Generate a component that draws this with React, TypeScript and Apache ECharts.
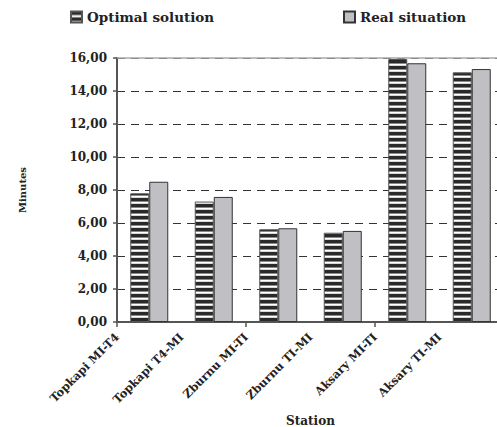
import React, { useEffect, useRef } from "react";
import * as echarts from "echarts";

const categories = ["Topkapi MI-T4", "Topkapi T4-MI", "Zburnu MI-TI", "Zburnu TI-MI", "Aksary MI-TI", "Aksary TI-MI"];
const optimalValues = [7.8, 7.3, 5.62, 5.41, 15.94, 15.13];
const realValues = [8.5, 7.58, 5.68, 5.52, 15.68, 15.33];
const seriesNames = ["Optimal solution", "Real situation"];

const FONT = "DejaVu Serif";

function makeStripe(): HTMLCanvasElement {
  const c = document.createElement("canvas");
  c.width = 6;
  c.height = 6;
  const ctx = c.getContext("2d")!;
  ctx.fillStyle = "#ffffff";
  ctx.fillRect(0, 0, 6, 6);
  ctx.fillStyle = "#2a2a2a";
  ctx.fillRect(0, 0, 6, 3);
  ctx.fillStyle = "#8a8a8a";
  ctx.fillRect(0, 3, 6, 1);
  ctx.fillStyle = "#d8d8d8";
  ctx.fillRect(0, 5, 6, 1);
  return c;
}

export default function App() {
  const ref = useRef<HTMLDivElement>(null);
  useEffect(() => {
    if (!ref.current) return;
    const chart = echarts.init(ref.current, null, { renderer: "svg" });
    const stripe = { image: makeStripe(), repeat: "repeat" } as any;
    const axisLabelFont = { fontFamily: FONT, fontWeight: "bold" as const, color: "#222" };
    chart.setOption({
      animation: false,
      backgroundColor: "#ffffff",
      legend: [
        {
          data: [seriesNames[0]],
          left: 65,
          top: 5,
          padding: 5,
          itemWidth: 11,
          itemHeight: 11,
          icon: "rect",
          textStyle: { ...axisLabelFont, fontSize: 13.5 },
        },
        {
          data: [seriesNames[1]],
          left: 338,
          top: 5,
          padding: 5,
          itemWidth: 11,
          itemHeight: 11,
          icon: "rect",
          textStyle: { ...axisLabelFont, fontSize: 13.5 },
        },
      ],
      grid: { left: 117, top: 58, width: 387, height: 264, outerBoundsMode: "none", containLabel: false },
      xAxis: [
        {
          type: "category",
          data: categories,
          boundaryGap: true,
          name: "Station",
          nameLocation: "middle",
          nameGap: 93,
          nameTextStyle: { ...axisLabelFont, fontSize: 12 },
          axisLine: { lineStyle: { color: "#555", width: 2 } },
          axisTick: { show: true, length: 5, lineStyle: { color: "#555", width: 1.5 } },
          axisLabel: { show: false },
        },
        {
          type: "category",
          data: [...categories, ""],
          boundaryGap: false,
          position: "bottom",
          axisLine: { show: false },
          axisTick: { show: false },
          axisLabel: {
            rotate: 45,
            margin: 13,
            interval: 0,
            fontSize: 11.5,
            ...axisLabelFont,
          },
        },
      ],
      yAxis: {
        type: "value",
        min: 0,
        max: 16,
        interval: 2,
        name: "Minutes",
        nameLocation: "middle",
        nameGap: 90,
        nameRotate: 90,
        nameTextStyle: { ...axisLabelFont, fontSize: 10 },
        axisLine: { show: true, lineStyle: { color: "#555", width: 2 } },
        axisTick: { show: true, length: 4, lineStyle: { color: "#555", width: 1.5 } },
        axisLabel: {
          margin: 10,
          fontSize: 12,
          ...axisLabelFont,
          formatter: (v: number) => v.toFixed(2).replace(".", ","),
        },
        splitLine: { show: true, lineStyle: { color: "#333", width: 1.2, type: [8, 6] } },
      },
      series: [
        {
          name: seriesNames[0],
          type: "bar",
          xAxisIndex: 0,
          data: optimalValues,
          barWidth: 19,
          barGap: "0%",
          itemStyle: { color: stripe, borderColor: "#555", borderWidth: 1 },
        },
        {
          name: seriesNames[1],
          type: "bar",
          xAxisIndex: 0,
          data: realValues,
          barWidth: 19,
          itemStyle: { color: "#c0c0c4", borderColor: "#333", borderWidth: 1 },
          markLine: {
            silent: true,
            symbol: "none",
            label: { show: false },
            lineStyle: { color: "#aaa", type: "solid", width: 1.5 },
            data: [{ yAxis: 16 }],
          },
        },
      ],
    });
    return () => chart.dispose();
  }, []);
  return (
    <div
      ref={ref}
      style={{ position: "fixed", left: 0, top: 0, width: 497, height: 427 }}
    />
  );
}
